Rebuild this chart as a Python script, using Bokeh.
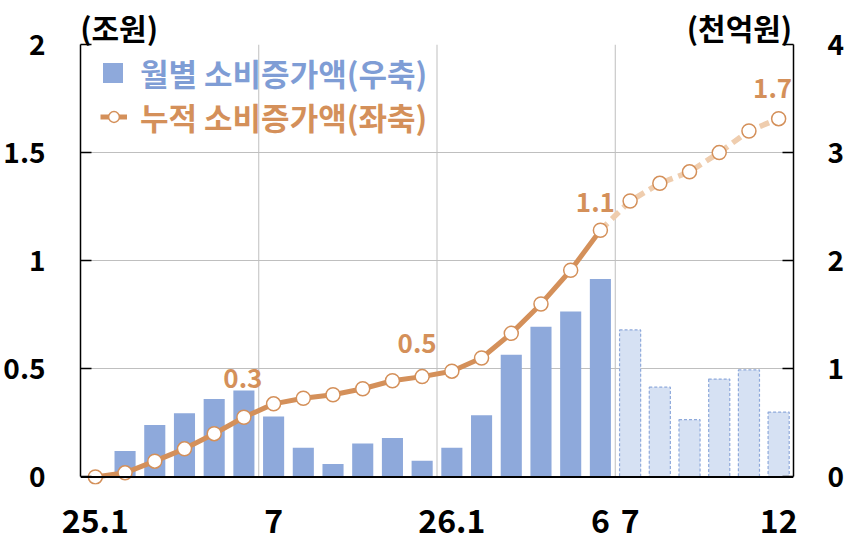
from bokeh.plotting import figure
from bokeh.models import (Range1d, LinearAxis, FixedTicker, Legend, LegendItem,
                          ColumnDataSource, Span)
from bokeh.embed import file_html
from bokeh.resources import INLINE
from bokeh.core.properties import value

# ---------------- data ----------------
months = ["25.1", "25.2", "25.3", "25.4", "25.5", "25.6", "25.7", "25.8", "25.9",
          "25.10", "25.11", "25.12", "26.1", "26.2", "26.3", "26.4", "26.5", "26.6",
          "26.7", "26.8", "26.9", "26.10", "26.11", "26.12"]
# monthly increase (천억원, right axis)
monthly = [0.0, 0.24, 0.48, 0.59, 0.72, 0.80, 0.56, 0.27, 0.12, 0.31, 0.36, 0.15,
           0.27, 0.57, 1.13, 1.39, 1.53, 1.83, 1.36, 0.83, 0.53, 0.905, 0.99, 0.60]
# cumulative increase (조원, left axis)
cumulative = [0.0, 0.019, 0.073, 0.13, 0.20, 0.276, 0.338, 0.364, 0.38, 0.408, 0.445,
              0.464, 0.489, 0.55, 0.664, 0.80, 0.956, 1.141, 1.276, 1.358, 1.411,
              1.50, 1.60, 1.657]
n_actual = 18                     # 25.1 ~ 26.6 actual, 26.7 ~ 26.12 projected
label_idx = [5, 11, 17, 23]       # annotated cumulative points
half_year_starts = [6, 12, 18]    # vertical separators before these months
x_tick_pos = [0, 6, 12, 17, 18, 23]
x_tick_labels = ["25.1", "7", "26.1", "6", "7", "12"]
left_ticks = [0, 0.5, 1, 1.5, 2]
left_tick_labels = ["0", "0.5", "1", "1.5", "2"]
right_ticks = [0, 1, 2, 3, 4]
right_tick_labels = ["0", "1", "2", "3", "4"]
unit_left = "(조원)"
unit_right = "(천억원)"
legend_bar = "월별 소비증가액(우축)"
legend_line = "누적 소비증가액(좌축)"

# ---------------- style ----------------
FONT = "Noto Sans CJK KR"
BLUE = "#8EA9DB"
BLUE_TEXT = "#7F9DD5"
LIGHT_BLUE = "#D6E1F3"
ORANGE = "#D4905A"
LIGHT_ORANGE = "#EFCDAE"
GRID = "#BFBFBF"
UNIT_POS = [0.80, 21.68]          # x positions (axis units) of the unit captions

xs = list(range(len(months)))

p = figure(width=848, height=548, x_range=Range1d(-0.5, len(months) - 0.5),
           y_range=Range1d(-0.035, left_ticks[-1]), output_backend="svg",
           toolbar_location=None, min_border_left=80, min_border_right=55,
           min_border_top=44, min_border_bottom=64)
p.extra_y_ranges = {"right": Range1d(-0.07, right_ticks[-1])}
p.outline_line_color = None
p.background_fill_color = "white"
p.border_fill_color = "white"

# grid
p.xgrid.visible = False
p.ygrid.ticker = FixedTicker(ticks=left_ticks[1:])
p.ygrid.grid_line_color = GRID
p.ygrid.grid_line_width = 1
sep_x = [i - 0.5 for i in half_year_starts]
p.segment(x0=sep_x, y0=[left_ticks[0]] * len(sep_x), x1=sep_x,
          y1=[left_ticks[-1]] * len(sep_x), line_color=GRID, line_width=1,
          level="underlay")

# bars
src_bar_a = ColumnDataSource(dict(x=xs[:n_actual], top=monthly[:n_actual]))
src_bar_f = ColumnDataSource(dict(x=xs[n_actual:], top=monthly[n_actual:]))
bar_a = p.vbar(x="x", top="top", bottom=0, width=0.71, source=src_bar_a,
               y_range_name="right", fill_color=BLUE, line_color=None)
bar_f = p.vbar(x="x", top="top", bottom=0, width=0.71, source=src_bar_f,
               y_range_name="right", fill_color=LIGHT_BLUE, line_color=BLUE,
               line_dash="3 2", line_width=1.2)

# x axis line at zero
p.add_layout(Span(location=0, dimension="width", line_color="black", line_width=2))

# cumulative line
line_a = p.line(xs[:n_actual], cumulative[:n_actual], line_color=ORANGE, line_width=5)
line_f = p.line(xs[n_actual - 1:], cumulative[n_actual - 1:], line_color=LIGHT_ORANGE,
                line_width=5.5, line_dash="10 6")
marks = p.scatter(xs, cumulative, marker="circle", size=14, fill_color="white",
                  line_color=ORANGE, line_width=1.5)

# data labels
src_lab = ColumnDataSource(dict(
    x=[xs[i] for i in label_idx],
    y=[cumulative[i] for i in label_idx],
    t=[f"{cumulative[i]:.1f}" for i in label_idx],
    dy=[-39, -33, -28, -30],
    dx=[-1, -5, -5, -6],
))
p.text(x="x", y="y", text="t", source=src_lab, x_offset="dx", y_offset="dy",
       text_align="center", text_baseline="middle", text_color=ORANGE,
       text_font=value(FONT), text_font_style="bold", text_font_size="26px")

# axes
def style_axis(ax, tick_in, size="28px"):
    ax.axis_line_color = "black"
    ax.axis_line_width = 1.5
    ax.major_tick_line_color = "black"
    ax.major_tick_line_width = 1.5
    ax.major_tick_in = tick_in
    ax.major_tick_out = 0
    ax.minor_tick_in = 0
    ax.minor_tick_out = 0
    ax.major_label_text_font = FONT
    ax.major_label_text_font_style = "bold"
    ax.major_label_text_font_size = size
    ax.major_label_text_color = "black"

ly = p.yaxis[0]
ly.ticker = FixedTicker(ticks=left_ticks)
ly.major_label_overrides = dict(zip(left_ticks, left_tick_labels))
ly.bounds = (left_ticks[0], left_ticks[-1])
style_axis(ly, 11)
ly.major_label_standoff = 35

ry = LinearAxis(y_range_name="right", ticker=FixedTicker(ticks=right_ticks))
ry.major_label_overrides = dict(zip(right_ticks, right_tick_labels))
ry.bounds = (right_ticks[0], right_ticks[-1])
style_axis(ry, 11)
ry.major_label_standoff = 34
p.add_layout(ry, "right")

bx = p.xaxis[0]
bx.ticker = FixedTicker(ticks=x_tick_pos)
bx.major_label_overrides = dict(zip(x_tick_pos, x_tick_labels))
style_axis(bx, 0, "32px")
bx.axis_line_color = None
bx.major_tick_line_color = None
bx.major_label_standoff = 24

# unit captions above the frame
ua = LinearAxis(ticker=FixedTicker(ticks=UNIT_POS))
ua.major_label_overrides = dict(zip(UNIT_POS, [unit_left, unit_right]))
style_axis(ua, 0, "30px")
ua.axis_line_color = None
ua.major_tick_line_color = None
ua.major_label_standoff = -4
p.add_layout(ua, "above")

# legends
common = dict(padding=0, margin=0, border_line_color=None, background_fill_alpha=0,
              label_text_font=FONT, label_text_font_style="bold",
              label_text_font_size="31px")
leg1 = Legend(items=[LegendItem(label=legend_bar, renderers=[bar_a])],
              location=(20, 389), glyph_width=25, glyph_height=25,
              label_standoff=15, label_text_color=BLUE_TEXT, **common)
leg2 = Legend(items=[LegendItem(label=legend_line, renderers=[line_a, marks])],
              location=(20, 345), glyph_width=27, glyph_height=27,
              label_standoff=13, label_text_color=ORANGE, **common)
p.add_layout(leg1)
p.add_layout(leg2)

open("out.html", "w").write(file_html(p, INLINE))
